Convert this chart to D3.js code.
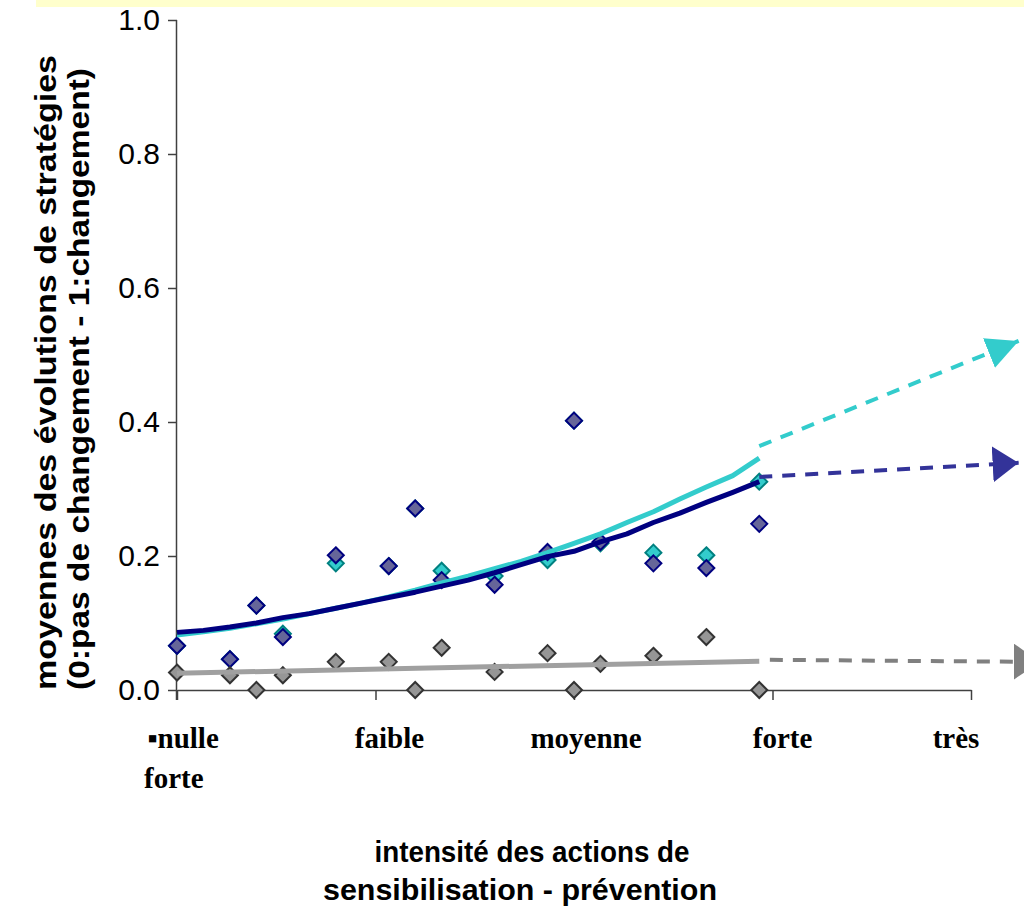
<!DOCTYPE html>
<html><head><meta charset="utf-8">
<script src="https://cdn.jsdelivr.net/npm/d3@7"></script>
<style>html,body{margin:0;padding:0;background:#fff;}svg{display:block;}</style>
</head><body>
<script>
// ---- data ----
const categories = ["\u25AAnulle", "faible", "moyenne", "forte", "très"];
const categoryWrap = "forte";
const yTicks = [0, 0.2, 0.4, 0.6, 0.8, 1.0];
const xTicks = [0, 7.5, 15, 22.5, 30];
const xPos      = [0, 2, 3, 4, 6, 8, 9, 10, 12, 14, 15, 16, 18, 20, 22];
const navyVals  = [0.066,0.046,0.126,0.079,0.201,0.185,0.271,0.164,0.157,0.206,0.402,0.221,0.189,0.182,0.248];
const tealVals  = [0.066,0.046,0.126,0.084,0.189,0.185,0.271,0.178,0.170,0.194,0.402,0.219,0.205,0.201,0.311];
const grayVals  = [0.026,0.022,0.000,0.022,0.042,0.042,0.000,0.063,0.027,0.055,0.000,0.039,0.051,0.079,0.000];
const trendX    = [0, 1, 2, 3, 4, 5, 6, 7, 8, 9, 10, 11, 12, 13, 14, 15, 16, 17, 18, 19, 20, 21, 22];
const navyTrend = [0.086,0.089,0.094,0.100,0.108,0.114,0.122,0.130,0.138,0.146,0.155,0.164,0.175,0.187,0.199,0.207,0.221,0.233,0.250,0.264,0.280,0.295,0.311];
const tealTrend = [0.082,0.087,0.092,0.099,0.106,0.114,0.122,0.130,0.139,0.149,0.160,0.170,0.181,0.192,0.205,0.219,0.233,0.250,0.266,0.285,0.303,0.320,0.346];
const grayTrendX = [0, 22];
const grayTrend  = [0.025, 0.043];
const tealExtX = [22, 31.8],  tealExt = [0.364, 0.521];
const navyExtX = [22, 31.8],  navyExt = [0.318, 0.339];
const grayExtX = [22.4, 32.6], grayExt = [0.045, 0.042];
const yTitle = ["moyennes des évolutions de stratégies", "(0:pas de changement - 1:changement)"];
const xTitle = ["intensité des actions de", "sensibilisation - prévention"];

// ---- layout ----
const W = 1024, H = 909;
const svg = d3.select("body").append("svg").attr("width", W).attr("height", H);
const x = d3.scaleLinear().domain([0, 30]).range([177, 971]);
const y = d3.scaleLinear().domain([0, 1]).range([690, 20]);

svg.append("rect").attr("x", 36).attr("y", 0).attr("width", W - 36).attr("height", 7).attr("fill", "#FFFFCC");

// axes
const yAxis = svg.append("g").attr("transform", `translate(${x(0)},0)`)
  .call(d3.axisLeft(y).tickValues(yTicks).tickFormat(d3.format(".1f")).tickSize(9).tickPadding(8));
yAxis.select(".domain").attr("d", `M-0.5,${y(1)}V${y(0) + 10}`).attr("stroke", "#404040").attr("stroke-width", 1.5);
yAxis.selectAll(".tick line").attr("stroke", "#404040").attr("stroke-width", 1.5);
yAxis.selectAll(".tick text").attr("font-family", "'Liberation Sans', Arial, sans-serif").attr("font-size", 30).attr("fill", "#000");

const xAxis = svg.append("g").attr("transform", `translate(0,${y(0)})`)
  .call(d3.axisBottom(x).tickValues(xTicks).tickFormat("").tickSize(10).tickSizeOuter(0));
xAxis.select(".domain").attr("stroke", "#404040").attr("stroke-width", 1.5);
xAxis.selectAll(".tick line").attr("stroke", "#404040").attr("stroke-width", 1.5);

// category labels (wrapped text box)
const labelDx = [6, 14, 12, 10, -15];
svg.append("g").selectAll("text").data(categories).join("text")
  .attr("x", (d, i) => x(xTicks[i]) + labelDx[i]).attr("y", 748)
  .attr("text-anchor", "middle")
  .attr("font-family", "'Liberation Serif', 'Times New Roman', serif").attr("font-weight", "bold").attr("font-size", 29)
  .text(d => d);
svg.append("text").attr("x", x(0) - 33).attr("y", 788)
  .attr("font-family", "'Liberation Serif', 'Times New Roman', serif").attr("font-weight", "bold").attr("font-size", 29)
  .text(categoryWrap);

// markers
const diamondType = {draw(ctx, s){ const r = Math.sqrt(s)/2; ctx.moveTo(0,-r); ctx.lineTo(r,0); ctx.lineTo(0,r); ctx.lineTo(-r,0); ctx.closePath(); }};
function diamonds(vals, fill, stroke) {
  svg.append("g").selectAll("path").data(vals).join("path")
    .attr("d", d3.symbol().type(diamondType).size(256))
    .attr("transform", (d, i) => `translate(${x(xPos[i])},${y(d)})`)
    .attr("fill", fill).attr("stroke", stroke).attr("stroke-width", 2);
}
diamonds(tealVals, "#33CCCC", "#008080");
diamonds(navyVals, "#666699", "#000080");
diamonds(grayVals, "#969696", "#333333");

// trend lines
const line = d3.line().x(d => x(d[0])).y(d => y(d[1]));
function trend(xs, vs, color, w) {
  svg.append("path").attr("d", line(xs.map((v, i) => [v, vs[i]])))
    .attr("fill", "none").attr("stroke", color).attr("stroke-width", w).attr("stroke-linejoin", "round");
}
trend(grayTrendX, grayTrend, "#A0A0A0", 5);
trend(trendX, tealTrend, "#33CCCC", 5);
trend(trendX, navyTrend, "#000080", 5);

// arrow extensions
const defs = svg.append("defs");
function arrowMarker(id, color, len, half) {
  defs.append("marker").attr("id", id).attr("markerUnits", "userSpaceOnUse")
    .attr("viewBox", `0 ${-half} ${len} ${2 * half}`).attr("markerWidth", len).attr("markerHeight", 2 * half)
    .attr("refX", len).attr("refY", 0).attr("orient", "auto")
    .append("path").attr("d", `M0,${-half}L${len},0L0,${half}Z`).attr("fill", color);
}
arrowMarker("aTeal", "#33CCCC", 32, 16);
arrowMarker("aNavy", "#333399", 26, 18);
arrowMarker("aGray", "#808080", 26, 18);
function ext(xs, vs, color, id) {
  svg.append("path").attr("d", line(xs.map((v, i) => [v, vs[i]])))
    .attr("fill", "none").attr("stroke", color).attr("stroke-width", 4)
    .attr("stroke-dasharray", "13,10").attr("marker-end", `url(#${id})`);
}
ext(tealExtX, tealExt, "#33CCCC", "aTeal");
ext(navyExtX, navyExt, "#333399", "aNavy");
ext(grayExtX, grayExt, "#808080", "aGray");

// titles
const yt = svg.append("g");
[[56, 635], [89, 622]].forEach((p, i) => {
  yt.append("text").attr("transform", `translate(${p[0]},690) rotate(-90)`)
    .attr("font-family", "'Liberation Sans', Arial, sans-serif").attr("font-weight", "bold").attr("font-size", 29)
    .attr("textLength", p[1]).attr("lengthAdjust", "spacingAndGlyphs")
    .text(yTitle[i]);
});
[[862, 315, 532], [900, 394, 520]].forEach((p, i) => {
  svg.append("text").attr("x", p[2] - p[1] / 2).attr("y", p[0])
    .attr("font-family", "'Liberation Sans', Arial, sans-serif").attr("font-weight", "bold").attr("font-size", 29)
    .attr("textLength", p[1]).attr("lengthAdjust", "spacingAndGlyphs")
    .text(xTitle[i]);
});
</script>
</body></html>
